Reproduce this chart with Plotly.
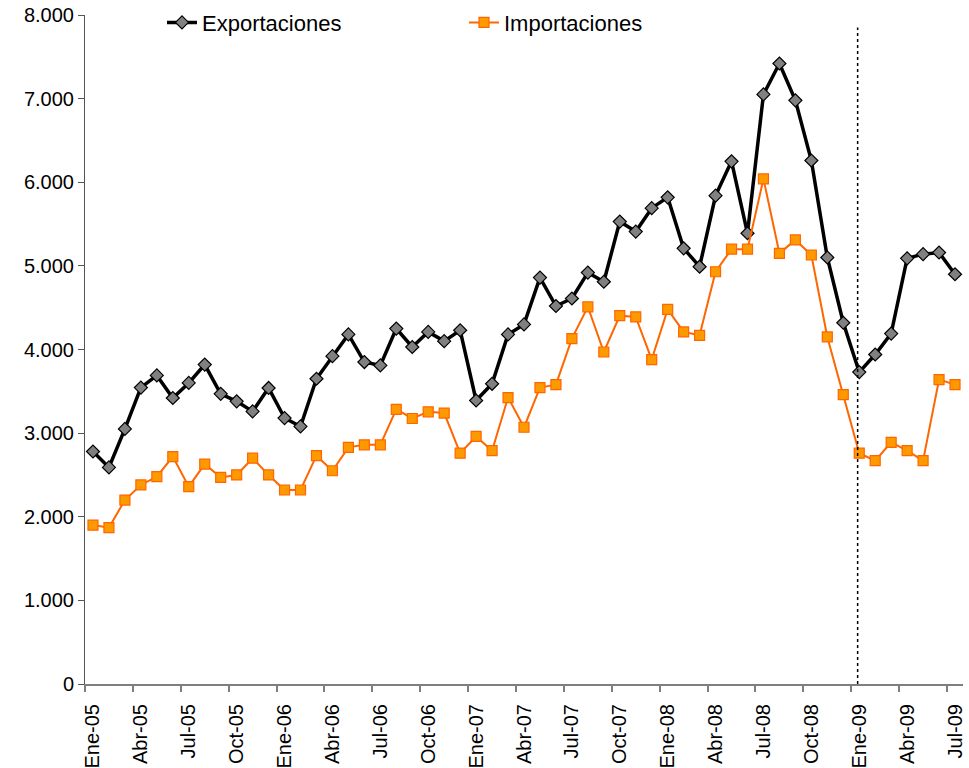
import plotly.graph_objects as go

# meses Ene-05 .. Jul-09
meses = ["Ene", "Feb", "Mar", "Abr", "May", "Jun", "Jul", "Ago", "Sep", "Oct", "Nov", "Dic"]
anios = ["05", "06", "07", "08", "09"]
categorias = [f"{m}-{a}" for a in anios for m in meses][:55]

exportaciones = [
    2780, 2590, 3050, 3545, 3690, 3420, 3600, 3820, 3470, 3380, 3260, 3540,
    3180, 3080, 3650, 3920, 4180, 3850, 3810, 4250, 4030, 4210, 4100, 4230,
    3390, 3590, 4180, 4300, 4860, 4520, 4610, 4920, 4810, 5530, 5410, 5690,
    5820, 5210, 4990, 5840, 6250, 5390, 7050, 7420, 6980, 6260, 5100, 4320,
    3730, 3940, 4190, 5090, 5140, 5160, 4900,
]
importaciones = [
    1900, 1870, 2200, 2380, 2480, 2720, 2360, 2630, 2470, 2500, 2700, 2500,
    2320, 2320, 2730, 2550, 2830, 2860, 2860, 3285, 3175, 3255, 3240, 2760,
    2960, 2790, 3425, 3070, 3545, 3580, 4130, 4510, 3970, 4405, 4390, 3880,
    4480, 4210, 4170, 4930, 5200, 5200, 6040, 5150, 5310, 5130, 4150, 3460,
    2760, 2670, 2890, 2790, 2670, 3640, 3580,
]

x = list(range(len(categorias)))
etiquetas_x = x[::3]
texto_x = categorias[::3]
linea_corte = categorias.index("Ene-09")

fig = go.Figure()
fig.add_trace(go.Scatter(
    x=x, y=exportaciones, name="Exportaciones", mode="lines+markers",
    line=dict(color="black", width=3.5),
    marker=dict(symbol="diamond", size=10, color="#808080",
                line=dict(color="black", width=1.2)),
))
fig.add_trace(go.Scatter(
    x=x, y=importaciones, name="Importaciones", mode="lines+markers",
    line=dict(color="#FF6600", width=2),
    marker=dict(symbol="square", size=10, color="#FF9900",
                line=dict(color="#FF6600", width=1.2)),
))

fig.add_shape(type="line", xref="x", yref="y",
              x0=linea_corte - 0.1, x1=linea_corte - 0.1, y0=0, y1=7850,
              line=dict(color="black", width=1.5, dash="dot"))

fig.update_layout(
    width=969, height=768,
    margin=dict(l=85, r=6, t=15, b=84, autoexpand=False),
    plot_bgcolor="white", paper_bgcolor="white",
    font=dict(family="Liberation Sans, Arial", size=20, color="black"),
    separators=",.",
    showlegend=True,
    legend=dict(orientation="h", x=0.0877, y=1.02, yanchor="top", xanchor="left",
                bgcolor="rgba(0,0,0,0)", entrywidth=257, entrywidthmode="pixels",
                font=dict(size=22)),
)
fig.update_xaxes(
    range=[-0.5, len(x) - 0.5], automargin=False,
    tickmode="array", tickvals=etiquetas_x, ticktext=texto_x, tickangle=-90,
    ticks="", ticklabelstandoff=10, showgrid=False, zeroline=False,
    showline=True, linecolor="#7f7f7f", linewidth=2,
    minor=dict(tickmode="linear", tick0=-0.5, dtick=3, ticks="outside",
               ticklen=6, tickcolor="#7f7f7f", tickwidth=1.5, showgrid=False),
)
fig.update_yaxes(
    range=[0, 8000], dtick=1000, tickformat=",d", separatethousands=True,
    automargin=False, ticklabeloverflow="allow",
    ticks="outside", ticklen=6, tickcolor="#555", showgrid=False, zeroline=False,
    showline=True, linecolor="#555", linewidth=1,
)

# quitar el margen por defecto del body para que el gráfico ocupe la ventana
fig.write_html("out.html", config={"displayModeBar": False},
               post_script="document.body.style.margin='0';")
